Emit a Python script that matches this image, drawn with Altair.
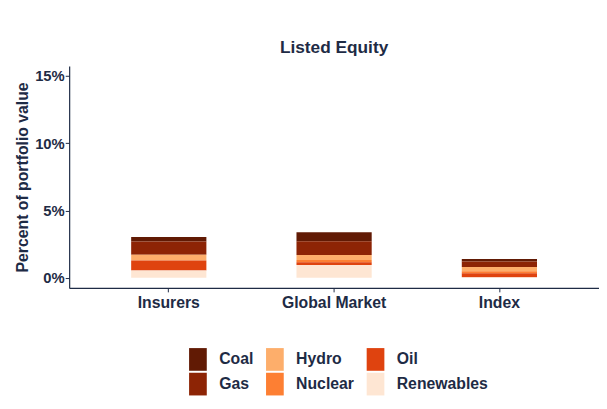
import altair as alt
import pandas as pd

categories = ["Insurers", "Global Market", "Index"]
energy = ["Coal", "Gas", "Hydro", "Nuclear", "Oil", "Renewables"]
coal = [0.34, 0.68, 0.18]
gas = [0.97, 1.02, 0.41]
hydro = [0.44, 0.37, 0.32]
nuclear = [0.0, 0.17, 0.15]
oil = [0.73, 0.20, 0.30]
renewables = [0.55, 0.95, 0.04]
colors = {"Coal": "#611a04", "Gas": "#8d2405", "Hydro": "#fdae6b",
          "Nuclear": "#fd7f33", "Oil": "#df430f", "Renewables": "#fee6d3"}
y_ticks = [0, 5, 10, 15]

series = {"Coal": coal, "Gas": gas, "Hydro": hydro, "Nuclear": nuclear,
          "Oil": oil, "Renewables": renewables}
rows = []
for e in energy:
    for c, v in zip(categories, series[e]):
        rows.append({"category": c, "energy": e, "value": v})
df = pd.DataFrame(rows)

legend_order = ["Coal", "Hydro", "Oil", "Gas", "Nuclear", "Renewables"]
TXT = "#1e2b45"
FONT = "Liberation Sans"

chart = alt.Chart(df).mark_bar().encode(
    x=alt.X("category:N", sort=categories,
            scale=alt.Scale(paddingInner=0.545, paddingOuter=0.375),
            axis=alt.Axis(title=None, labelAngle=0, labelFontSize=16,
                          labelFontWeight="bold", labelColor=TXT, labelPadding=3,
                          tickSize=4, tickColor=TXT, domainColor=TXT,
                          domainWidth=1.2)),
    y=alt.Y("value:Q", stack="zero",
            scale=alt.Scale(domain=[-0.75, 15.75], nice=False, zero=False),
            axis=alt.Axis(title="Percent of portfolio value", values=y_ticks,
                          labelExpr="datum.value + '%'", labelFontSize=15,
                          labelFontWeight="bold", labelColor=TXT, labelPadding=1,
                          tickSize=4, tickColor=TXT, domainColor=TXT,
                          domainWidth=1.2, grid=False, titleFontSize=16,
                          titleFontWeight="bold", titleColor=TXT,
                          titlePadding=4)),
    color=alt.Color("energy:N",
                    scale=alt.Scale(domain=legend_order,
                                    range=[colors[k] for k in legend_order]),
                    legend=alt.Legend(title=None, orient="none", legendX=119,
                                      legendY=286, columns=3, direction="horizontal",
                                      symbolType="M-0.78,-1H0.78V1H-0.78Z",
                                      symbolSize=529, symbolStrokeWidth=0,
                                      symbolOpacity=1, labelFontSize=16,
                                      labelFontWeight="bold", labelColor=TXT,
                                      labelOffset=10, columnPadding=10,
                                      rowPadding=2, padding=0)),
    order=alt.Order("energy:N", sort="descending"),
).properties(
    width=537, height=225,
    title=alt.TitleParams("Listed Equity", fontSize=17.5, fontWeight="bold",
                          color=TXT, anchor="middle", offset=10),
    autosize=alt.AutoSizeParams(type="none"),
    padding={"left": 62, "top": 56, "right": 0, "bottom": 117},
).configure(font=FONT, background="white").configure_view(stroke=None)

chart.save("out.html", embed_options={"renderer": "svg", "actions": False})
